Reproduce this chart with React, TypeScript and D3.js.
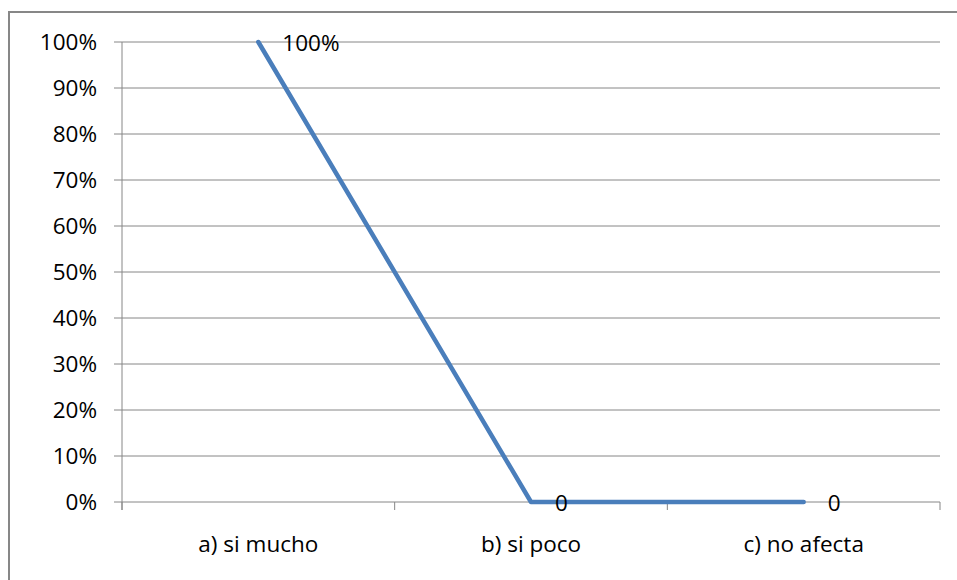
import React from "react";
import * as d3 from "d3";

const categories = ["a) si mucho", "b) si poco", "c) no afecta"];
const values = [1, 0, 0];
const valueLabels = ["100%", "0", "0"];
const yTicks = [0, 0.1, 0.2, 0.3, 0.4, 0.5, 0.6, 0.7, 0.8, 0.9, 1];

const W = 957;
const H = 580;
const FONT = "'Open Sans', sans-serif";
const FS = 22.5;

export default function App() {
  const x = d3.scaleBand<string>().domain(categories).range([122, 940]).padding(0);
  const y = d3.scaleLinear().domain([0, 1]).range([502, 42]);
  const cx = (c: string) => (x(c) as number) + x.bandwidth() / 2;
  const line = d3
    .line<number>()
    .x((_, i) => cx(categories[i]))
    .y((d) => y(d));
  const fmt = d3.format(".0%");
  const [x0, x1] = x.range();
  const tickXs = [...categories.map((c) => x(c) as number), x1];

  return (
    <svg
      width={W}
      height={H}
      style={{ position: "absolute", left: 0, top: 0, background: "#fff" }}
      fontFamily={FONT}
    >
      <rect x={9} y={12} width={W + 10} height={H + 10} fill="#fff" stroke="#878787" strokeWidth={2} />
      {yTicks.map((t) => (
        <g key={t}>
          <line x1={114} x2={x1} y1={y(t)} y2={y(t)} stroke="#868686" strokeWidth={1} />
          <text x={97} y={y(t)} dy="0.35em" textAnchor="end" fontSize={FS} fill="#000">
            {fmt(t)}
          </text>
        </g>
      ))}
      <line x1={x0} x2={x0} y1={y(1)} y2={y(0) + 8} stroke="#868686" strokeWidth={1} />
      {tickXs.map((tx, i) => (
        <line key={i} x1={tx} x2={tx} y1={y(0)} y2={y(0) + 8} stroke="#868686" strokeWidth={1} />
      ))}
      {categories.map((c) => (
        <text key={c} x={cx(c)} y={552} textAnchor="middle" fontSize={FS} fill="#000">
          {c}
        </text>
      ))}
      <path
        d={line(values) || ""}
        fill="none"
        stroke="#4A7EBB"
        strokeWidth={4.5}
        strokeLinejoin="round"
        strokeLinecap="round"
      />
      {values.map((v, i) => (
        <text
          key={i}
          x={cx(categories[i]) + 24}
          y={y(v) + 1}
          dy="0.35em"
          fontSize={FS}
          fill="#000"
        >
          {valueLabels[i]}
        </text>
      ))}
    </svg>
  );
}
